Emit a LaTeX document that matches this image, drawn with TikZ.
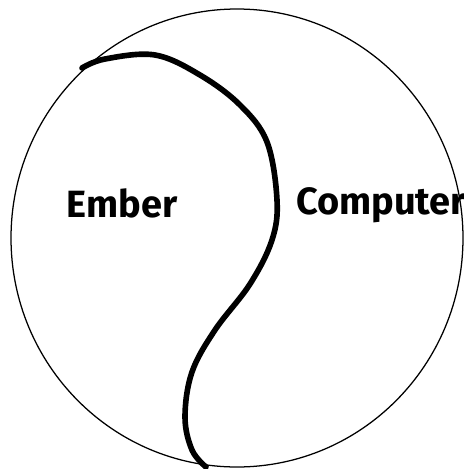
\documentclass[tikz,border=0pt]{standalone}
\usepackage{fontspec}
\setsansfont{Fira Sans}

\begin{document}
\begin{tikzpicture}[x=0.025cm, y=-0.025cm, line cap=round, line join=round,
                    rim/.style={line width=0.9pt},
                    split/.style={line width=4pt},
                    lbl/.style={font=\fontsize{27}{27}\selectfont\sffamily\bfseries, inner sep=0pt}]

% full original canvas
\useasboundingbox (0,0) rectangle (464,469);

% ---- outer circle ----
\draw[rim] (237,238) ellipse (226 and 229);

% ---- dividing S-curve, top-left rim -> bottom rim ----
\draw[split] plot[smooth, tension=0.6] coordinates {
  (82,68) (105,59) (155,55) (200,75) (240,105) (267,142)
  (277,200) (272,240) (250,284) (215,330) (192,372)
  (185,417) (192,450) (206,467)};

% ---- labels ----
\node[lbl] (ember) at (122,203) {Ember};
\node[lbl] (computer) at (381,205) {Computer};

\end{tikzpicture}
\end{document}
